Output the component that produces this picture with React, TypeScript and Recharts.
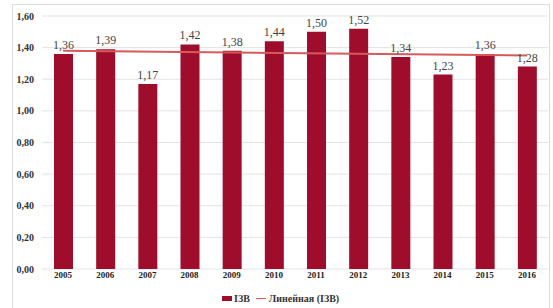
import React from 'react';
import { ComposedChart, Bar, Line, XAxis, YAxis, CartesianGrid, Legend, LabelList } from 'recharts';

const years = ['2005', '2006', '2007', '2008', '2009', '2010', '2011', '2012', '2013', '2014', '2015', '2016'];
const izvValues = [1.36, 1.39, 1.17, 1.42, 1.38, 1.44, 1.5, 1.52, 1.34, 1.23, 1.36, 1.28];
const trendValues: (number | null)[] = [1.38, null, null, null, null, null, null, null, null, null, null, 1.35];
const yTicks = [0, 0.2, 0.4, 0.6, 0.8, 1.0, 1.2, 1.4, 1.6];

const seriesName = 'ІЗВ';
const trendName = 'Линейная (ІЗВ)';

const data = years.map((y, i) => ({ year: y, izv: izvValues[i], trend: trendValues[i] }));

const fmt = (v: any) => Number(v).toFixed(2).replace('.', ',');

const BAR_COLOR = '#9e0e2c';
const LINE_COLOR = '#d65a5a';
const FONT = '"Liberation Serif", "Times New Roman", serif';

const LegendContent = () => (
  <div style={{ display: 'flex', alignItems: 'center', fontFamily: FONT, fontWeight: 'bold', fontSize: 10, color: '#333' }}>
    <span style={{ display: 'inline-block', width: 10, height: 5, background: BAR_COLOR, marginRight: 2 }} />
    <span style={{ marginRight: 6 }}>{seriesName}</span>
    <span style={{ display: 'inline-block', width: 10, height: 1.5, background: LINE_COLOR, marginRight: 3 }} />
    <span>{trendName}</span>
  </div>
);

export default function App() {
  return (
    <div style={{ position: 'absolute', left: 0, top: 0, width: 553, height: 308, background: '#fff' }}>
      <div style={{ position: 'absolute', left: 12, top: 4, width: 538, height: 310, border: '1px solid #dcdcdc', boxSizing: 'border-box' }} />
      <ComposedChart width={553} height={308} data={data} margin={{ top: 16, right: 5, bottom: 8, left: 0 }}>
        <CartesianGrid vertical={false} stroke="#e3e3e3" />
        <XAxis
          dataKey="year"
          axisLine={false}
          tickLine={false}
          tickSize={0}
          tickMargin={3}
          height={20}
          interval={0}
          tick={{ fontFamily: FONT, fontWeight: 'bold', fontSize: 9, fill: '#222' }}
        />
        <YAxis
          domain={[0, 1.6]}
          ticks={yTicks}
          tickFormatter={fmt}
          axisLine={false}
          tickLine={false}
          width={42}
          tick={{ fontFamily: FONT, fontWeight: 'bold', fontSize: 10, fill: '#333' }}
        />
        <Bar dataKey="izv" name={seriesName} fill={BAR_COLOR} barSize={19} isAnimationActive={false}>
          <LabelList dataKey="izv" position="top" offset={5} formatter={fmt} style={{ fontFamily: FONT, fontSize: 12, fill: '#444' }} />
        </Bar>
        <Line dataKey="trend" name={trendName} stroke={LINE_COLOR} strokeWidth={2} dot={false} connectNulls isAnimationActive={false} />
        <Legend verticalAlign="bottom" content={<LegendContent />} wrapperStyle={{ left: 222, bottom: 4, width: 'auto' }} />
      </ComposedChart>
    </div>
  );
}
